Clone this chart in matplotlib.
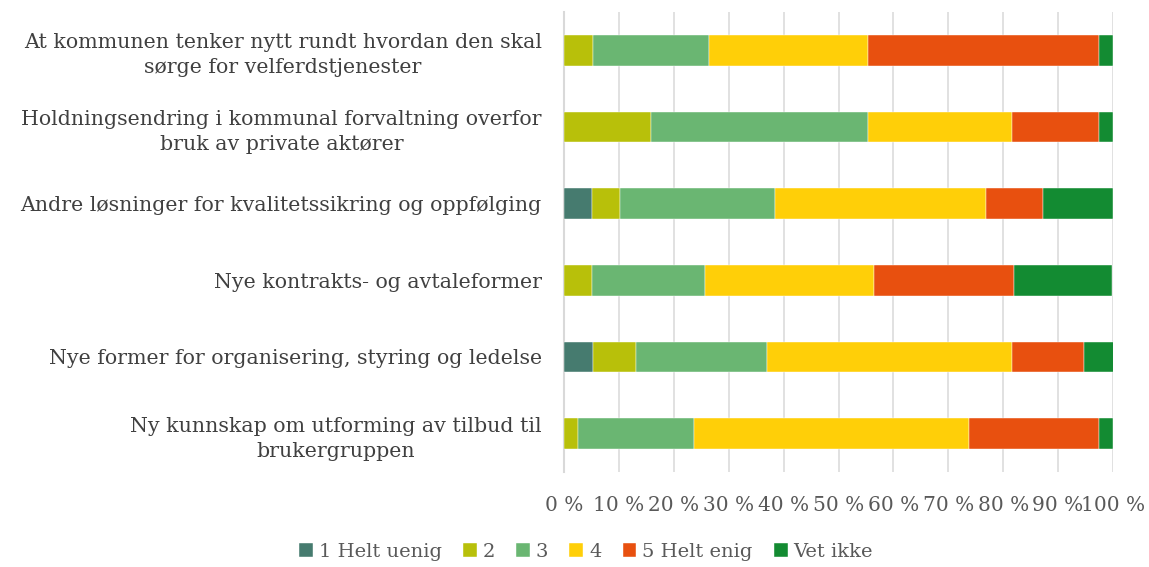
import numpy as np
import matplotlib.pyplot as plt

# Svarfordeling (%) per påstand, ovenfra og ned
kategorier = [
    "At kommunen tenker nytt rundt hvordan den skal\nsørge for velferdstjenester",
    "Holdningsendring i kommunal forvaltning overfor\nbruk av private aktører",
    "Andre løsninger for kvalitetssikring og oppfølging",
    "Nye kontrakts- og avtaleformer",
    "Nye former for organisering, styring og ledelse",
    "Ny kunnskap om utforming av tilbud til\nbrukergruppen",
]
serier = ["1 Helt uenig", "2", "3", "4", "5 Helt enig", "Vet ikke"]

helt_uenig = [0.0, 0.0, 5.1, 0.0, 5.3, 0.0]
to = [5.3, 15.8, 5.1, 5.1, 7.9, 2.6]
tre = [21.1, 39.5, 28.2, 20.5, 23.7, 21.1]
fire = [28.9, 26.3, 38.5, 30.8, 44.7, 50.0]
helt_enig = [42.1, 15.8, 10.3, 25.6, 13.2, 23.7]
vet_ikke = [2.6, 2.6, 12.8, 17.9, 5.3, 2.6]

farger = ["#467B6F", "#B8C00A", "#6AB672", "#FFCF08", "#E8500F", "#138B32"]

plt.rcParams["font.family"] = ["DejaVu Serif"]
tekstfarge = "#595959"

fig = plt.figure(figsize=(11.49, 5.67), dpi=100)
ax = fig.add_axes([564 / 1149, 1 - 472 / 567, (1113 - 564) / 1149, (472 - 12) / 567])

y = np.arange(len(kategorier))
venstre = np.zeros(len(kategorier))
for navn, verdier, farge in zip(serier, [helt_uenig, to, tre, fire, helt_enig, vet_ikke], farger):
    ax.barh(y, verdier, left=venstre, height=0.4, color=farge, label=navn,
            edgecolor="white", linewidth=0.3, zorder=3)
    venstre += np.array(verdier)

ax.set_ylim(len(kategorier) - 0.5, -0.5)
ax.set_xlim(0, 100)
ax.set_yticks(y)
ax.set_yticklabels(kategorier, fontsize=14.8, color="#404040", linespacing=1.4)
for lbl in ax.get_yticklabels():
    lbl.set_multialignment("center")

ax.set_xticks(np.arange(0, 101, 10))
ax.set_xticklabels([f"{v}\u00a0%" for v in range(0, 101, 10)], fontsize=14.5, color=tekstfarge)
ax.tick_params(axis="both", length=0)
ax.tick_params(axis="x", pad=17)
ax.tick_params(axis="y", pad=16)

ax.grid(axis="x", color="#D9D9D9", linewidth=1.1, zorder=0)
for side in ["top", "right", "bottom"]:
    ax.spines[side].set_visible(False)
ax.spines["left"].set_color("#D9D9D9")
ax.spines["left"].set_linewidth(1.5)

fig.legend(loc="center", bbox_to_anchor=(0.51, 0.027), ncol=6, frameon=False,
           fontsize=14, labelcolor=tekstfarge, handlelength=0.7, handleheight=0.7,
           handletextpad=0.3, columnspacing=1.1)

fig.savefig("out.png", dpi=100)
